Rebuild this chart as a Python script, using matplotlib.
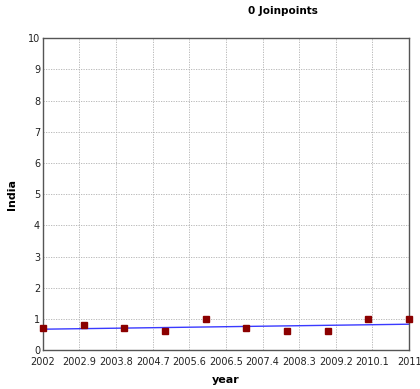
import matplotlib
matplotlib.use("Agg")
import matplotlib.pyplot as plt
import numpy as np

years = [2002, 2003, 2004, 2005, 2006, 2007, 2008, 2009, 2010, 2011]
values = [0.7, 0.8, 0.7, 0.6, 1.0, 0.7, 0.6, 0.6, 1.0, 1.0]
fit_years = [2002, 2011]
fit_values = [0.67, 0.83]
xticks = [2002, 2002.9, 2003.8, 2004.7, 2005.6, 2006.5, 2007.4, 2008.3, 2009.2, 2010.1, 2011]
xtick_labels = ["2002", "2002.9", "2003.8", "2004.7", "2005.6", "2006.5", "2007.4", "2008.3", "2009.2", "2010.1", "2011"]
yticks = list(range(0, 11))

fig = plt.figure(figsize=(4.2, 3.89), dpi=100)
ax = fig.add_axes([0.102, 0.100, 0.872, 0.802])
ax.plot(fit_years, fit_values, color="#3a3aff", lw=1.0, zorder=2)
ax.plot(years, values, ls="none", marker="s", color="#8b0000", markersize=4.5, zorder=3, clip_on=False)
ax.set_xlim(2002, 2011)
ax.set_ylim(0, 10)
ax.set_xticks(xticks)
ax.set_xticklabels(xtick_labels)
ax.set_yticks(yticks)
ax.tick_params(labelsize=7, length=0, colors="#222222")
ax.tick_params(axis="y", pad=2)
ax.tick_params(axis="x", pad=5)
ax.grid(True, color="#b0b0b0", ls=(0, (1.5, 1.5)), lw=0.6)
for s in ax.spines.values():
    s.set_color("#555555")
    s.set_linewidth(1.0)
ax.set_xlabel("year", fontsize=8, fontweight="bold", labelpad=6)
ax.set_ylabel("India", fontsize=8, fontweight="bold")
ax.yaxis.set_label_coords(-0.07, 0.5)
fig.text(0.674, 0.972, "0 Joinpoints", fontsize=7.5, fontweight="bold", ha="center", va="center")
fig.savefig("out.png", dpi=100)
